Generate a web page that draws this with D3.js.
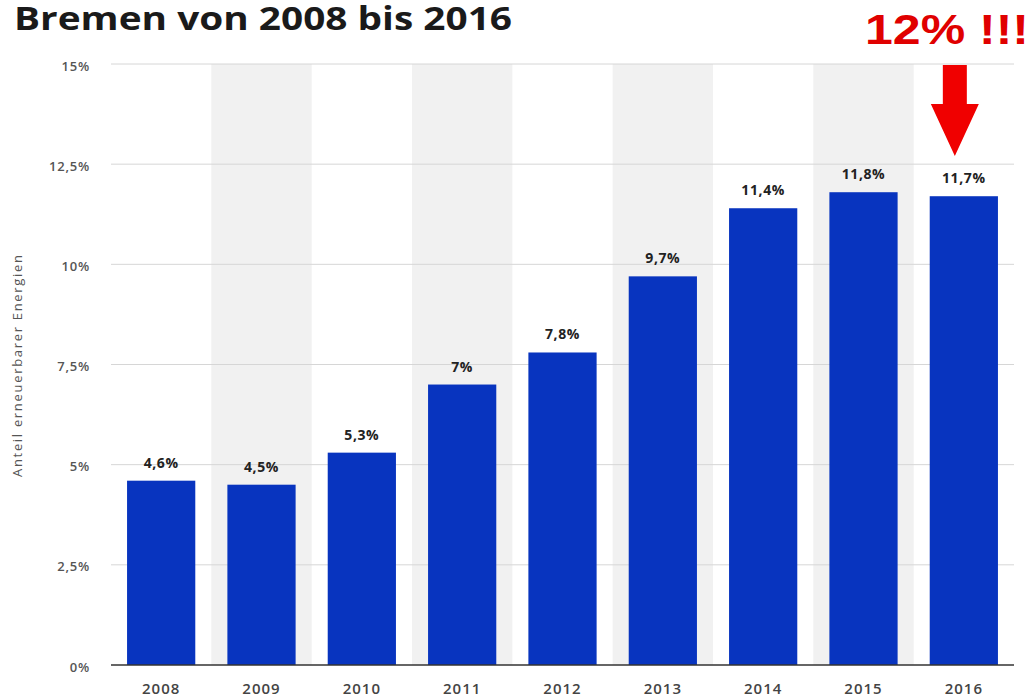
<!DOCTYPE html>
<html><head><meta charset="utf-8">
<script src="https://cdn.jsdelivr.net/npm/d3@7"></script>
<style>body{margin:0;background:#fff}svg{display:block}</style>
</head><body>
<svg id="c" width="1032" height="698"></svg>
<script>
const years = ["2008","2009","2010","2011","2012","2013","2014","2015","2016"];
const shares = [4.6, 4.5, 5.3, 7, 7.8, 9.7, 11.4, 11.8, 11.7];
const yTicks = [0, 2.5, 5, 7.5, 10, 12.5, 15];
const titleText = "Bremen von 2008 bis 2016";
const yAxisTitle = "Anteil erneuerbarer Energien";
const annotation = "12% !!!";

const svg = d3.select("#c");
const fmt = v => String(v).replace(".", ",") + "%";

const x = d3.scaleBand().domain(years).range([111, 1014]).paddingInner(0.32).paddingOuter(0.16);
const y = d3.scaleLinear().domain([0, 15]).range([665, 64]);

// stripes
svg.append("g").selectAll("rect").data(years.filter((d,i)=>i%2===1)).join("rect")
  .attr("x", d => x(d) + x.bandwidth()/2 - x.step()/2)
  .attr("width", x.step())
  .attr("y", y(15)).attr("height", y(0) - y(15))
  .attr("fill", "#f1f1f1");

// gridlines
svg.append("g").selectAll("line").data(yTicks.filter(t=>t>0)).join("line")
  .attr("x1", 111).attr("x2", 1014)
  .attr("y1", d => y(d)).attr("y2", d => y(d))
  .attr("stroke", "#d6d6d6").attr("stroke-width", 1);

// y tick labels
svg.append("g").selectAll("text").data(yTicks).join("text")
  .attr("x", 90).attr("y", d => y(d) + 2).attr("dy", "0.35em")
  .attr("text-anchor", "end")
  .attr("font-family", "Open Sans").attr("font-size", 13).attr("font-weight", 600)
  .attr("letter-spacing", 0.8)
  .attr("fill", "#555").text(d => fmt(d));

// bars
svg.append("g").selectAll("rect").data(years).join("rect")
  .attr("x", d => x(d)).attr("width", x.bandwidth())
  .attr("y", (d,i) => y(shares[i])).attr("height", (d,i) => y(0) - y(shares[i]))
  .attr("fill", "#0834bf");

// value labels
svg.append("g").selectAll("text").data(years).join("text")
  .attr("x", d => x(d) + x.bandwidth()/2)
  .attr("y", (d,i) => y(shares[i]) - 13)
  .attr("text-anchor", "middle")
  .attr("font-family", "Open Sans").attr("font-size", 14).attr("font-weight", 700)
  .attr("letter-spacing", 0.6)
  .attr("fill", "#222").text((d,i) => fmt(shares[i]));

// baseline
svg.append("line").attr("x1", 111).attr("x2", 1014).attr("y1", y(0)).attr("y2", y(0))
  .attr("stroke", "#333").attr("stroke-width", 1.5);

// x labels
svg.append("g").selectAll("text").data(years).join("text")
  .attr("x", d => x(d) + x.bandwidth()/2).attr("y", 694)
  .attr("text-anchor", "middle")
  .attr("font-family", "Open Sans").attr("font-size", 15).attr("font-weight", 600)
  .attr("letter-spacing", 1)
  .attr("fill", "#444").text(d => d);

// y axis title
svg.append("text").attr("transform", "translate(22,366) rotate(-90)")
  .attr("text-anchor", "middle")
  .attr("font-family", "Open Sans").attr("font-size", 13)
  .attr("textLength", 222).attr("lengthAdjust", "spacing")
  .attr("fill", "#555").text(yAxisTitle);

// title
svg.append("text").attr("x", 14).attr("y", 30)
  .attr("font-family", "Open Sans").attr("font-size", 33).attr("font-weight", 700)
  .attr("textLength", 498).attr("lengthAdjust", "spacingAndGlyphs")
  .attr("fill", "#1a1a1a").text(titleText);

// annotation
svg.append("text").attr("x", 865).attr("y", 44)
  .attr("font-family", "Liberation Sans").attr("font-size", 43).attr("font-weight", 700)
  .attr("textLength", 164).attr("lengthAdjust", "spacingAndGlyphs")
  .attr("fill", "#e00000").text(annotation);

// arrow
const cx = x("2016") + x.bandwidth()/2 - 9;
const arrow = d3.path();
arrow.moveTo(cx - 12, 65); arrow.lineTo(cx + 12, 65); arrow.lineTo(cx + 12, 104);
arrow.lineTo(cx + 24, 104); arrow.lineTo(cx, 156); arrow.lineTo(cx - 24, 104);
arrow.lineTo(cx - 12, 104); arrow.closePath();
svg.append("path").attr("d", arrow.toString()).attr("fill", "#f00000");
</script>
</body></html>
